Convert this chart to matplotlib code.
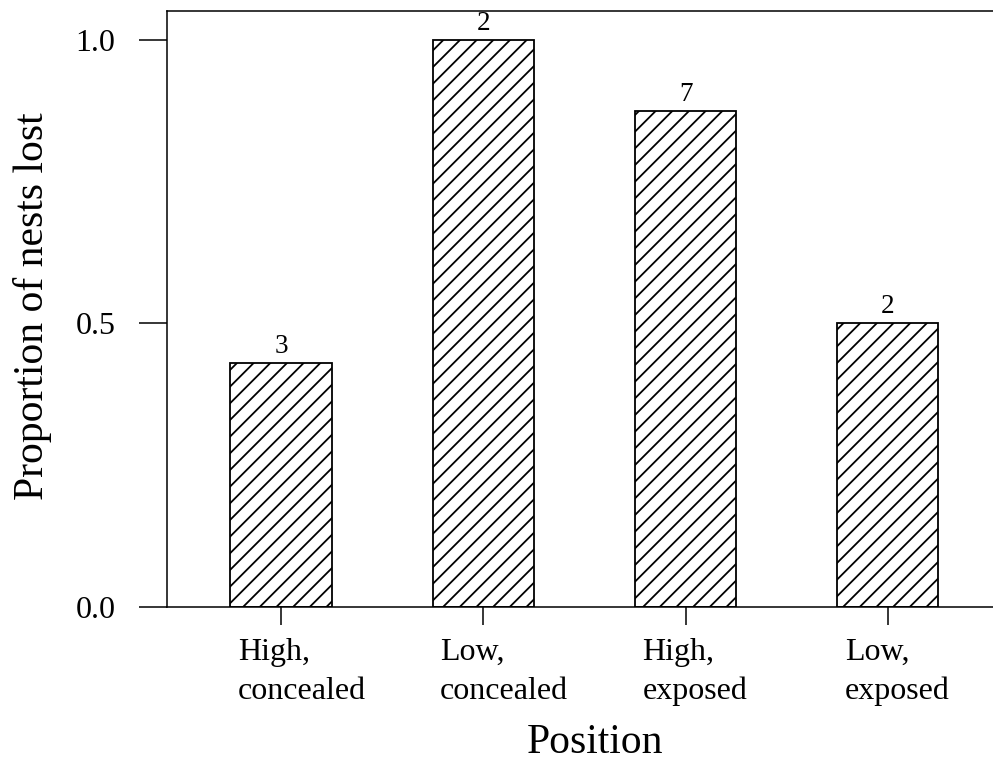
import matplotlib
matplotlib.use("Agg")
import matplotlib.pyplot as plt

categories = ["High,\nconcealed", "Low,\nconcealed", "High,\nexposed", "Low,\nexposed"]
proportions = [0.43, 1.0, 0.875, 0.5]
counts = [3, 2, 7, 2]
yticks = [0.0, 0.5, 1.0]
ytick_labels = ["0.0", "0.5", "1.0"]

plt.rcParams['font.family'] = ['Liberation Serif', 'DejaVu Serif']
plt.rcParams['hatch.linewidth'] = 1.3
plt.rcParams['hatch.color'] = 'black'

fig = plt.figure(figsize=(9.93, 7.63), dpi=100)
ax = fig.add_axes([0.1679, 0.2051, 1.0 - 0.1679, 0.9856 - 0.2051])

x = list(range(len(categories)))
bars = ax.bar(x, proportions, width=0.5, color='white', edgecolor='black',
              linewidth=1.3, hatch='//')
ax.bar_label(bars, labels=[str(c) for c in counts], padding=3, fontsize=19.5)

ax.set_xlim(-0.565, 3.52)
ax.set_ylim(0, 1.051)
ax.set_yticks(yticks)
ax.set_yticklabels(ytick_labels)
ax.set_xticks(x)
ax.set_xticklabels([])

for xi, cat in zip(x, categories):
    ax.annotate(cat, xy=(xi, 0), xycoords=('data', 'axes fraction'),
                xytext=(-31, -22.5), textcoords='offset points',
                ha='left', va='top', fontsize=23, linespacing=1.45,
                multialignment='left')

ax.tick_params(axis='y', length=20, width=1.1, pad=17, labelsize=23, direction='out')
ax.tick_params(axis='x', length=13, width=1.1, direction='out')

for s in ['left', 'bottom', 'top']:
    ax.spines[s].set_linewidth(1.1)
ax.spines['right'].set_visible(False)

fig.text(33 / 993, 1 - 306.5 / 763, "Proportion of nests lost", rotation=90,
         ha='center', va='center', fontsize=30)
fig.text(595 / 993, 1.0 / 763, "Position", ha='center', va='bottom', fontsize=30)

fig.savefig("out.png", dpi=100)
